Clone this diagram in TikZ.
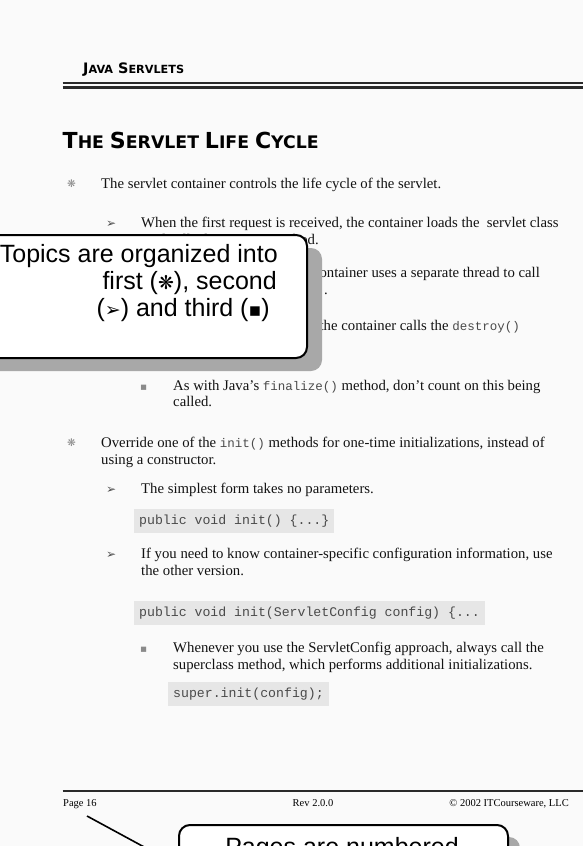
\documentclass[tikz,border=0pt]{standalone}
\usepackage{fontspec}
\setmainfont{Liberation Serif}
\newfontfamily\arialf{Liberation Sans}
\newfontfamily\monof{Liberation Mono}
\newfontfamily\djv{DejaVu Sans}
\usetikzlibrary{shadows}
\definecolor{pagebg}{HTML}{FAFAFA}
\definecolor{codebg}{HTML}{E6E6E6}
\definecolor{codefg}{HTML}{4A4A4A}
\definecolor{shadowgray}{HTML}{A8A8A8}
\definecolor{rulecol}{HTML}{2A2A2A}
\definecolor{bulletgray}{HTML}{8A8A8A}
\newcommand{\mcode}[1]{{\monof\fontsize{12.5}{15}\selectfont\color{codefg}#1}}
\newcommand{\fstar}{{\djv\color{bulletgray}\char"274B}}
\newcommand{\sarrow}{{\djv\fontsize{12}{14}\selectfont\color{black!70}\char"27A2}}
\newcommand{\tsq}{{\djv\color{bulletgray}\char"25AA}}
\begin{document}
\begin{tikzpicture}[x=1pt,y=-1pt,
  body/.style={anchor=base west, inner sep=0pt, font=\fontsize{14.75}{17}\selectfont, text=black!93},
  bodyr/.style={body, anchor=base east},
  bul/.style={anchor=base west, inner sep=0pt, font=\fontsize{10.5}{12}\selectfont},
  codebox/.style={anchor=north west, fill=codebg, inner xsep=5pt, inner ysep=0pt, minimum height=24pt, font=\fontsize{13.2}{15}\monof\selectfont, text=codefg},
  callout/.style={draw=black, line width=2pt, fill=white, rounded corners=11pt, inner sep=0pt},
  shadow1/.style={drop shadow={shadow xshift=15pt, shadow yshift=-13pt, opacity=1, fill=shadowgray}},
  shadow2/.style={drop shadow={shadow xshift=12pt, shadow yshift=-12pt, opacity=1, fill=shadowgray}},
  ctext/.style={anchor=base east, inner sep=0pt, font=\fontsize{25}{27}\arialf\selectfont},
  foot/.style={inner sep=0pt, font=\fontsize{10.5}{12}\selectfont},
  rulethin/.style={line width=1.2pt, draw=rulecol},
  rulethick/.style={line width=3pt, draw=rulecol}]
\useasboundingbox (0,0) rectangle (583,846);
\clip (0,0) rectangle (583,846);
\fill[pagebg] (0,0) rectangle (583,846);

% header
\node[anchor=base west, inner sep=0pt] (hdr) at (83,73) {\resizebox{101pt}{!}{\djv\bfseries{\fontsize{10}{10}\selectfont J}{\fontsize{7.8}{10}\selectfont AVA} {\fontsize{10}{10}\selectfont S}{\fontsize{7.8}{10}\selectfont ERVLETS}}};
\coordinate (r1a) at (62.5,83); \coordinate (r1b) at (583,83);
\coordinate (r2a) at (62.5,87.5); \coordinate (r2b) at (583,87.5);
\draw[rulethin] (r1a) -- (r1b);
\draw[rulethick] (r2a) -- (r2b);

% title
\node[anchor=base west, inner sep=0pt] (title) at (62.5,148) {\resizebox{256pt}{!}{\djv\bfseries{\fontsize{13}{13}\selectfont T}{\fontsize{10.2}{13}\selectfont HE} {\fontsize{13}{13}\selectfont S}{\fontsize{10.2}{13}\selectfont ERVLET} {\fontsize{13}{13}\selectfont L}{\fontsize{10.2}{13}\selectfont IFE} {\fontsize{13}{13}\selectfont C}{\fontsize{10.2}{13}\selectfont YCLE}}};

% first level 1
\node[bul] (b1) at (67,187) {\fstar};
\node[body] (t1) at (101,188) {The servlet container controls the life cycle of the servlet.};

\node[bul] (b2) at (106,227) {\sarrow};
\node[body] (t2a) at (141,227) {When the first request is received, the container loads the\ \ servlet class};
\node[bodyr] (t2b) at (319,244) {and calls the \mcode{init()} method.};

\node[bul] (b3) at (106,277) {\sarrow};
\node[bodyr] (t3a) at (540,277) {When a request is received, the container uses a separate thread to call};
\node[bodyr] (t3b) at (328,294) {\mcode{service()}.};

\node[bul] (b4) at (106,330) {\sarrow};
\node[bodyr] (t4a) at (520,330) {When the servlet is unloaded, the container calls the \mcode{destroy()}};
\node[body] (t4b) at (141,347) {method.};

\node[bul] (b5) at (140,390) {\tsq};
\node[body] (t5a) at (173,390) {As with Java's \mcode{finalize()} method, don't count on this being};
\node[body] (t5b) at (173,406) {called.};

% second level 1
\node[bul] (b6) at (67,446) {\fstar};
\node[body] (t6a) at (101,447) {Override one of the \mcode{init()} methods for one-time initializations, instead of};
\node[body] (t6b) at (101,464) {using a constructor.};

\node[bul] (b7) at (106,493) {\sarrow};
\node[body] (t7) at (141,493) {The simplest form takes no parameters.};
\node[codebox] (c1) at (134,509) {public void init() \{...\}\hspace{3pt}};

\node[bul] (b8) at (106,558) {\sarrow};
\node[body] (t8a) at (141,558) {If you need to know container-specific configuration information, use};
\node[body] (t8b) at (141,575) {the other version.};
\node[codebox] (c2) at (134,601) {public void init(ServletConfig config) \{...\hspace{6pt}};

\node[bul] (b9) at (140,652) {\tsq};
\node[body] (t9a) at (173,652) {Whenever you use the ServletConfig approach, always call the};
\node[body] (t9b) at (173,669) {superclass method, which performs additional initializations.};
\node[codebox] (c3) at (168,682) {super.init(config);\hspace{3pt}};

% footer
\coordinate (f1) at (62.5,791); \coordinate (f2) at (583,791);
\draw[line width=1.3pt, draw=rulecol] (f1) -- (f2);
\node[foot, anchor=base west] (pg) at (63,806) {Page 16};
\node[foot, anchor=base] (rev) at (313,806) {Rev 2.0.0};
\node[foot, anchor=base east] (copy) at (569,806) {\textcopyright\ 2002 ITCourseware, LLC};

% callout 1
\node[callout, shadow1, anchor=north east, minimum width=350pt, minimum height=123pt] (co1) at (308,234) {};
\node[ctext] (co1a) at (278,262) {Topics are organized into};
\node[ctext] (co1b) at (277,289) {first ({\djv\fontsize{19}{20}\selectfont\char"274B}), second};
\node[ctext] (co1c) at (270,316) {({\djv\fontsize{19}{20}\selectfont\char"27A2}) and third ({\djv\fontsize{19}{20}\selectfont\char"25AA})};

% callout 2
\coordinate (p1) at (87,816);
\coordinate (p2) at (146,848);
\draw[line width=1.6pt] (p1) -- (p2);
\node[callout, shadow2, anchor=north west, minimum width=329pt, minimum height=90pt] (co2) at (178,824) {};
\node[ctext, anchor=base] (co2a) at (342,855) {Pages are numbered};
\end{tikzpicture}
\end{document}
